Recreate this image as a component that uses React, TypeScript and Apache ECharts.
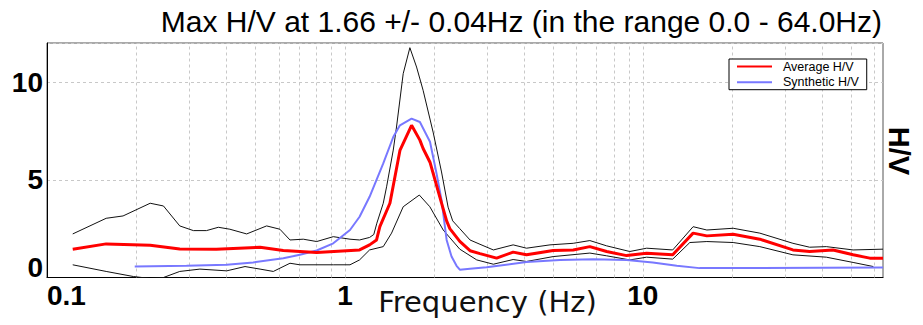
import React, { useEffect, useRef } from "react";
import * as echarts from "echarts";

const titleText = "Max H/V at 1.66 +/- 0.04Hz (in the range 0.0 - 64.0Hz)";
const xAxisTitle = "Frequency (Hz)";
const yAxisTitle = "H/V";
const legendNames = ["Average H/V", "Synthetic H/V"];

// vertical grid lines (Hz)
const gridFreqs = [0.2, 0.3, 0.4, 0.5, 0.6, 0.7, 0.8, 0.9, 1, 2, 3, 4, 5, 6, 7, 8, 9, 10, 20, 30, 40, 50, 60];

// upper (mean + std) curve
const upperFreq = [0.122, 0.158, 0.18, 0.222, 0.246, 0.279, 0.31, 0.343, 0.376, 0.411, 0.468, 0.546, 0.605, 0.654, 0.725, 0.804, 0.914, 1.04, 1.12, 1.21, 1.25, 1.28, 1.345, 1.38, 1.453, 1.49, 1.569, 1.652, 1.74, 1.83, 1.98, 2.11, 2.22, 2.3, 2.43, 2.63, 2.84, 3.15, 3.67, 4.07, 4.88, 5.84, 6.64, 7.56, 9.04, 10.3, 12.6, 14.75, 16.4, 20.1, 24.7, 31.9, 36.3, 41.3, 50.8, 64];
const upperHV = [2.23, 3.03, 3.15, 3.8, 3.66, 2.64, 2.4, 2.4, 2.57, 2.47, 2.23, 2.64, 2.47, 1.92, 1.96, 1.84, 2.09, 1.96, 1.92, 2.05, 2.2, 2.78, 3.8, 4.64, 6.52, 7.7, 10.43, 11.76, 10.77, 9.58, 7.4, 5.4, 3.6, 2.9, 2.5, 1.92, 1.7, 1.41, 1.67, 1.5, 1.67, 1.75, 1.89, 1.62, 1.33, 1.5, 1.41, 2.6, 2.43, 2.52, 2.27, 1.75, 1.55, 1.58, 1.41, 1.45];

// average H/V
const avgFreq = [0.122, 0.158, 0.222, 0.279, 0.37, 0.519, 0.621, 0.804, 1.12, 1.21, 1.277, 1.31, 1.416, 1.53, 1.674, 1.785, 1.83, 1.93, 2.084, 2.195, 2.25, 2.43, 2.63, 2.84, 3.23, 3.67, 4.07, 5.0, 5.84, 6.64, 7.56, 8.82, 10.3, 12.6, 14.75, 16.4, 20.1, 24.7, 31.9, 36.3, 43.5, 50.8, 57.8, 64];
const avgHV = [1.45, 1.72, 1.65, 1.46, 1.45, 1.55, 1.38, 1.28, 1.41, 1.67, 1.92, 2.6, 3.8, 6.5, 7.79, 7.03, 6.6, 5.9, 4.1, 2.9, 2.5, 1.85, 1.37, 1.22, 0.99, 1.3, 1.16, 1.38, 1.41, 1.58, 1.33, 1.12, 1.24, 1.16, 2.27, 2.13, 2.21, 1.96, 1.41, 1.33, 1.41, 1.16, 0.99, 0.99];

// lower (mean - std) curve
const lowerFreq = [0.122, 0.158, 0.195, 0.222, 0.246, 0.279, 0.326, 0.401, 0.462, 0.519, 0.575, 0.654, 0.706, 0.914, 1.04, 1.12, 1.21, 1.345, 1.434, 1.569, 1.777, 1.928, 2.138, 2.43, 2.77, 3.15, 3.67, 4.07, 5.0, 6.64, 7.56, 9.04, 10.3, 12.6, 14.38, 16.4, 20.1, 24.7, 31.9, 41.3, 50.8, 59.4];
const lowerHV = [0.65, 0.31, 0.05, -0.05, 0.0, 0.31, 0.43, 0.34, 0.56, 0.43, 0.31, 0.73, 0.65, 0.65, 0.65, 0.9, 1.41, 1.58, 2.27, 3.62, 4.22, 3.62, 2.43, 1.45, 0.9, 0.68, 0.92, 0.82, 1.07, 1.25, 1.11, 0.9, 1.04, 0.94, 1.79, 1.84, 1.79, 1.58, 1.16, 1.04, 0.77, 0.56];

// synthetic H/V
const synFreq = [0.197, 0.294, 0.401, 0.492, 0.621, 0.706, 0.804, 0.914, 1.04, 1.12, 1.21, 1.345, 1.453, 1.53, 1.674, 1.785, 1.93, 2.03, 2.11, 2.195, 2.28, 2.37, 2.43, 2.63, 2.99, 4.07, 5.27, 6.81, 8.82, 10.8, 13.0, 15.5, 24.7, 64];
const synHV = [0.56, 0.6, 0.65, 0.77, 0.99, 1.16, 1.38, 1.75, 2.43, 3.11, 4.13, 5.84, 7.19, 7.79, 8.13, 7.96, 6.95, 5.33, 3.96, 1.92, 1.07, 0.6, 0.4, 0.45, 0.53, 0.79, 0.9, 0.94, 0.9, 0.77, 0.6, 0.48, 0.48, 0.51];

const zip = (xs: number[], ys: number[]) => xs.map((x, i) => [x, ys[i]]);

export default function App() {
  const ref = useRef<HTMLDivElement>(null);
  useEffect(() => {
    if (!ref.current) return;
    const chart = echarts.init(ref.current, null, { renderer: "svg" });
    const sans = "'Liberation Sans', Arial, sans-serif";
    chart.setOption({
      animation: false,
      backgroundColor: "#ffffff",
      title: {
        text: titleText,
        right: 41,
        top: 6,
        padding: 0,
        textStyle: { fontSize: 30, fontWeight: "normal", color: "#000", fontFamily: sans },
      },
      legend: {
        data: legendNames,
        orient: "vertical",
        left: 729,
        top: 59,
        padding: [1, 8, 1, 7],
        itemGap: 2.7,
        itemWidth: 35,
        itemHeight: 14,
        backgroundColor: "#fff",
        borderColor: "#000",
        borderWidth: 1,
        borderRadius: 0,
        itemStyle: { opacity: 0, borderWidth: 0 },
        textStyle: { fontSize: 12.5, color: "#000", fontFamily: sans, padding: [0, 0, 0, 6] },
      },
      grid: {
        left: 47,
        top: 43,
        width: 836,
        height: 234.5,
        show: true,
        borderColor: "#555",
        borderWidth: 1,
        backgroundColor: "transparent",
      },
      xAxis: {
        type: "log",
        logBase: 10,
        min: 0.1,
        max: 64,
        axisLine: { show: true, lineStyle: { color: "#000", width: 1 } },
        axisTick: { show: false },
        splitLine: { show: false },
        axisLabel: {
          margin: 4,
          fontSize: 28,
          fontWeight: "bold",
          color: "#000",
          fontFamily: sans,
          showMaxLabel: false,
          alignMinLabel: "left",
          formatter: (v: number) => String(v),
        },
      },
      yAxis: {
        type: "value",
        min: 0,
        max: 12,
        interval: 5,
        axisLine: { show: true, lineStyle: { color: "#000", width: 1 } },
        axisTick: { show: false },
        splitLine: { show: true, lineStyle: { color: "#c8c8c8", type: [3, 3], width: 1 } },
        axisLabel: {
          margin: 4,
          fontSize: 28,
          lineHeight: 20,
          fontWeight: "bold",
          color: "#000",
          fontFamily: sans,
          showMaxLabel: false,
          verticalAlignMinLabel: "bottom",
        },
      },
      graphic: [
        {
          type: "text",
          x: 487.5,
          y: 302,
          style: {
            text: xAxisTitle,
            fill: "#111",
            font: "29px 'DejaVu Sans', Verdana, sans-serif",
            textAlign: "center",
            textVerticalAlign: "middle",
          },
        },
        {
          type: "text",
          x: 899,
          y: 151,
          rotation: -Math.PI / 2,
          style: {
            text: yAxisTitle,
            fill: "#000",
            font: "bold 29px 'Liberation Sans', Arial, sans-serif",
            textAlign: "center",
            textVerticalAlign: "middle",
          },
        },
      ],
      series: [
        {
          name: "Upper",
          type: "line",
          data: zip(upperFreq, upperHV),
          symbol: "none",
          z: 2,
          lineStyle: { color: "#111", width: 1 },
          markLine: {
            silent: true,
            symbol: ["none", "none"],
            label: { show: false },
            z: 1,
            lineStyle: { color: "#c8c8c8", type: [3, 3], width: 1 },
            data: gridFreqs.map((f) => ({ xAxis: f })),
          },
        },
        {
          name: "Lower",
          type: "line",
          data: zip(lowerFreq, lowerHV),
          symbol: "none",
          z: 2,
          lineStyle: { color: "#111", width: 1 },
        },
        {
          name: legendNames[1],
          type: "line",
          data: zip(synFreq, synHV),
          symbol: "none",
          z: 3,
          itemStyle: { color: "#7878ff" },
          lineStyle: { color: "#7878ff", width: 2 },
        },
        {
          name: legendNames[0],
          type: "line",
          data: zip(avgFreq, avgHV),
          symbol: "none",
          z: 4,
          itemStyle: { color: "#ff0000" },
          lineStyle: { color: "#ff0000", width: 3 },
        },
      ],
    });
    return () => chart.dispose();
  }, []);
  return <div ref={ref} style={{ position: "fixed", left: 0, top: 0, width: 923, height: 325 }} />;
}
